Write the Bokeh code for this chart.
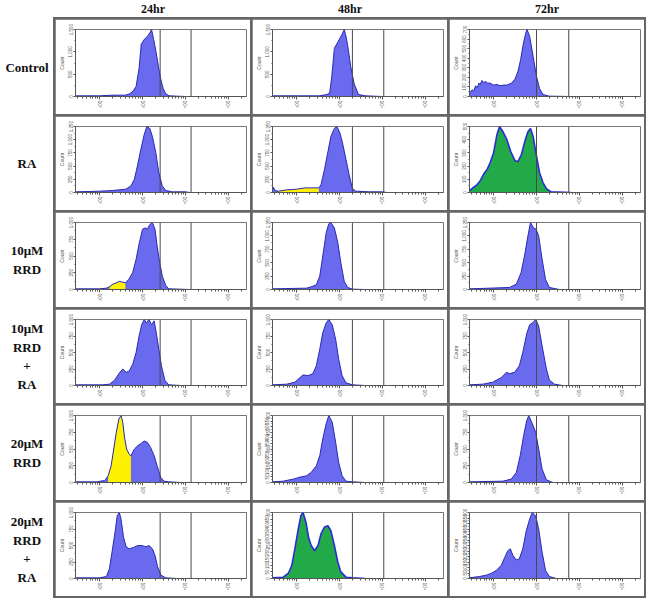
import numpy as np
from bokeh.plotting import figure
from bokeh.models import GridBox, FixedTicker, Span, Range1d, NumeralTickFormatter, ColumnDataSource
from bokeh.layouts import column, row
from bokeh.embed import file_html
from bokeh.resources import INLINE
from bokeh.core.properties import value

# ---------------- labels ----------------
col_labels = ["24hr", "48hr", "72hr"]
row_labels = [["Control"], ["RA"], ["10μM", "RRD"], ["10μM", "RRD", "+", "RA"],
              ["20μM", "RRD"], ["20μM", "RRD", "+", "RA"]]
x_tick_pos = [2, 3, 4, 5]
x_tick_labels = ["10²", "10³", "10⁴", "10⁵"]
gate_lines = [[3.41, 4.13], [3.30, 4.03], [3.00, 3.75]]   # log10 positions, per time column

# ---------------- histograms (x = log10 intensity, h = fraction of full scale) ----------------
x_ctrl_24 = [1.44, 1.6, 2.0, 2.3, 2.6, 2.7, 2.78, 2.85, 2.92, 2.97, 3.05, 3.12, 3.17, 3.21, 3.26, 3.31, 3.37, 3.42, 3.48, 3.54, 3.62, 3.8, 4.0]
h_ctrl_24 = [0.01, 0.01, 0.01, 0.02, 0.02, 0.04, 0.08, 0.15, 0.42, 0.78, 0.86, 0.9, 0.95, 1.0, 0.85, 0.68, 0.45, 0.27, 0.12, 0.04, 0.01, 0.005, 0.0]
x_ctrl_48 = [1.44, 2.0, 2.54, 2.7, 2.77, 2.82, 2.88, 2.95, 3.0, 3.06, 3.11, 3.15, 3.19, 3.26, 3.34, 3.44, 3.6, 4.0]
h_ctrl_48 = [0.01, 0.01, 0.01, 0.03, 0.05, 0.3, 0.72, 0.8, 0.86, 0.93, 1.0, 0.9, 0.76, 0.45, 0.19, 0.03, 0.01, 0.0]
x_ctrl_72 = [1.44, 1.5, 1.54, 1.58, 1.62, 1.66, 1.69, 1.73, 1.77, 1.81, 1.85, 1.92, 2.0, 2.08, 2.15, 2.23, 2.31, 2.42, 2.5, 2.57, 2.63, 2.69, 2.75, 2.78, 2.84, 2.92, 3.0, 3.07, 3.15, 3.3, 3.8]
h_ctrl_72 = [0.05, 0.1, 0.08, 0.16, 0.13, 0.2, 0.18, 0.24, 0.2, 0.23, 0.2, 0.2, 0.17, 0.18, 0.16, 0.17, 0.17, 0.2, 0.26, 0.38, 0.55, 0.78, 0.95, 1.0, 0.9, 0.6, 0.3, 0.12, 0.03, 0.005, 0.0]

x_ra_24 = [1.44, 2.0, 2.3, 2.61, 2.73, 2.81, 2.88, 2.96, 3.04, 3.1, 3.17, 3.23, 3.31, 3.38, 3.46, 3.54, 3.7, 4.0, 4.1]
h_ra_24 = [0.01, 0.02, 0.03, 0.05, 0.1, 0.2, 0.4, 0.65, 0.88, 1.0, 0.97, 0.85, 0.6, 0.3, 0.1, 0.03, 0.01, 0.01, 0.0]
x_ra_48 = [1.44, 1.46, 1.5, 1.58, 1.77, 2.0, 2.19, 2.38, 2.52, 2.57, 2.65, 2.73, 2.8, 2.88, 2.94, 3.01, 3.07, 3.15, 3.23, 3.3, 3.38, 3.7, 4.0, 4.1]
h_ra_48 = [0.03, 0.08, 0.03, 0.02, 0.04, 0.05, 0.07, 0.07, 0.07, 0.12, 0.35, 0.62, 0.85, 0.97, 1.0, 0.9, 0.75, 0.5, 0.25, 0.06, 0.02, 0.01, 0.01, 0.0]
x_ra_72 = [1.44, 1.54, 1.62, 1.69, 1.77, 1.85, 1.92, 2.0, 2.08, 2.14, 2.22, 2.31, 2.4, 2.5, 2.57, 2.65, 2.73, 2.8, 2.86, 2.92, 3.0, 3.07, 3.15, 3.23, 3.34, 3.8]
h_ra_72 = [0.03, 0.08, 0.12, 0.18, 0.28, 0.35, 0.45, 0.6, 0.88, 1.0, 0.92, 0.8, 0.62, 0.48, 0.47, 0.58, 0.78, 0.92, 0.97, 0.85, 0.55, 0.3, 0.15, 0.06, 0.01, 0.0]

x_r10_24 = [1.44, 2.0, 2.16, 2.23, 2.31, 2.39, 2.46, 2.54, 2.6, 2.68, 2.77, 2.85, 2.92, 3.0, 3.06, 3.11, 3.17, 3.23, 3.29, 3.34, 3.4, 3.46, 3.54, 3.61, 4.1]
h_r10_24 = [0.01, 0.01, 0.02, 0.04, 0.08, 0.1, 0.12, 0.11, 0.1, 0.15, 0.25, 0.45, 0.68, 0.9, 0.92, 0.9, 0.97, 1.0, 0.9, 0.65, 0.4, 0.2, 0.06, 0.01, 0.0]
x_r10_48 = [1.44, 2.23, 2.34, 2.46, 2.54, 2.61, 2.69, 2.75, 2.8, 2.88, 2.96, 3.03, 3.11, 3.19, 3.3, 3.6]
h_r10_48 = [0.01, 0.02, 0.04, 0.07, 0.2, 0.5, 0.85, 0.98, 1.0, 0.92, 0.7, 0.4, 0.12, 0.03, 0.005, 0.0]
x_r10_72 = [1.44, 2.37, 2.53, 2.64, 2.72, 2.8, 2.86, 2.93, 2.99, 3.05, 3.13, 3.21, 3.3, 3.53]
h_r10_72 = [0.01, 0.03, 0.08, 0.25, 0.5, 0.8, 1.0, 0.92, 0.9, 0.8, 0.45, 0.15, 0.03, 0.0]

x_r10ra_24 = [1.44, 2.08, 2.23, 2.35, 2.45, 2.54, 2.62, 2.69, 2.77, 2.85, 2.92, 2.98, 3.04, 3.09, 3.15, 3.21, 3.27, 3.32, 3.38, 3.44, 3.52, 3.61, 3.9]
h_r10ra_24 = [0.01, 0.01, 0.02, 0.08, 0.18, 0.25, 0.2, 0.22, 0.32, 0.5, 0.75, 0.92, 1.0, 0.95, 1.0, 0.92, 0.98, 0.8, 0.55, 0.3, 0.08, 0.01, 0.0]
x_r10ra_48 = [1.44, 1.77, 1.96, 2.08, 2.15, 2.27, 2.38, 2.46, 2.54, 2.61, 2.69, 2.75, 2.83, 2.91, 2.98, 3.06, 3.15, 3.3, 3.6]
h_r10ra_48 = [0.01, 0.02, 0.05, 0.12, 0.16, 0.15, 0.18, 0.3, 0.55, 0.8, 0.95, 1.0, 0.92, 0.7, 0.4, 0.15, 0.04, 0.01, 0.0]
x_r10ra_72 = [1.44, 1.75, 1.98, 2.18, 2.3, 2.37, 2.49, 2.6, 2.68, 2.77, 2.84, 2.91, 2.98, 3.05, 3.13, 3.23, 3.3, 3.42, 3.61]
h_r10ra_72 = [0.01, 0.02, 0.05, 0.12, 0.2, 0.18, 0.2, 0.3, 0.5, 0.78, 0.92, 0.95, 1.0, 0.9, 0.6, 0.25, 0.08, 0.02, 0.0]

x_r20_24 = [1.44, 1.93, 2.12, 2.2, 2.27, 2.33, 2.39, 2.45, 2.5, 2.54, 2.58, 2.63, 2.69, 2.73, 2.81, 2.89, 2.96, 3.04, 3.11, 3.19, 3.27, 3.34, 3.42, 3.5, 3.61, 3.9]
h_r20_24 = [0.01, 0.01, 0.03, 0.1, 0.25, 0.5, 0.75, 0.95, 1.0, 0.9, 0.68, 0.5, 0.42, 0.4, 0.5, 0.55, 0.58, 0.62, 0.6, 0.52, 0.4, 0.25, 0.08, 0.02, 0.01, 0.0]
x_r20_48 = [1.44, 1.69, 1.92, 2.08, 2.23, 2.34, 2.46, 2.54, 2.61, 2.69, 2.75, 2.83, 2.91, 2.98, 3.06, 3.15, 3.3, 3.6]
h_r20_48 = [0.01, 0.02, 0.05, 0.08, 0.1, 0.15, 0.25, 0.4, 0.65, 0.88, 1.0, 0.9, 0.6, 0.3, 0.1, 0.02, 0.01, 0.0]
x_r20_72 = [1.44, 2.22, 2.41, 2.53, 2.62, 2.7, 2.77, 2.82, 2.9, 2.98, 3.05, 3.13, 3.23, 3.38]
h_r20_72 = [0.01, 0.02, 0.05, 0.15, 0.4, 0.7, 0.92, 1.0, 0.88, 0.75, 0.5, 0.2, 0.04, 0.0]

x_r20ra_24 = [1.44, 2.0, 2.16, 2.23, 2.29, 2.36, 2.41, 2.46, 2.5, 2.56, 2.62, 2.69, 2.79, 2.89, 2.98, 3.08, 3.15, 3.23, 3.29, 3.35, 3.43, 3.54, 3.8]
h_r20ra_24 = [0.01, 0.01, 0.03, 0.15, 0.4, 0.7, 0.95, 1.0, 0.9, 0.62, 0.48, 0.45, 0.47, 0.5, 0.5, 0.48, 0.5, 0.45, 0.35, 0.18, 0.05, 0.01, 0.0]
x_r20ra_48 = [1.44, 1.69, 1.81, 1.89, 1.96, 2.04, 2.1, 2.15, 2.22, 2.28, 2.34, 2.42, 2.5, 2.57, 2.65, 2.73, 2.8, 2.88, 2.96, 3.03, 3.15, 3.3, 3.6]
h_r20ra_48 = [0.01, 0.02, 0.08, 0.2, 0.45, 0.75, 0.95, 1.0, 0.85, 0.62, 0.5, 0.42, 0.5, 0.68, 0.78, 0.8, 0.72, 0.5, 0.25, 0.1, 0.02, 0.01, 0.0]
x_r20ra_72 = [1.44, 1.67, 1.83, 1.95, 2.06, 2.18, 2.26, 2.33, 2.39, 2.45, 2.53, 2.6, 2.68, 2.76, 2.84, 2.9, 2.98, 3.05, 3.13, 3.21, 3.3, 3.46]
h_r20ra_72 = [0.01, 0.03, 0.05, 0.08, 0.12, 0.2, 0.32, 0.42, 0.45, 0.35, 0.28, 0.3, 0.45, 0.72, 0.9, 1.0, 0.95, 0.75, 0.4, 0.12, 0.03, 0.0]

# full-scale counts and y tick steps per panel (rows x time columns)
y_full = [[1500, 1500, 700], [1250, 1250, 500], [1000, 1250, 1250],
          [1000, 1000, 1000], [1000, 600, 1000], [1000, 500, 600]]
y_step = [[500, 500, 100], [250, 250, 100], [250, 250, 250],
          [250, 250, 250], [250, 50, 250], [250, 50, 50]]

panels = [
    [(x_ctrl_24, h_ctrl_24), (x_ctrl_48, h_ctrl_48), (x_ctrl_72, h_ctrl_72)],
    [(x_ra_24, h_ra_24), (x_ra_48, h_ra_48), (x_ra_72, h_ra_72)],
    [(x_r10_24, h_r10_24), (x_r10_48, h_r10_48), (x_r10_72, h_r10_72)],
    [(x_r10ra_24, h_r10ra_24), (x_r10ra_48, h_r10ra_48), (x_r10ra_72, h_r10ra_72)],
    [(x_r20_24, h_r20_24), (x_r20_48, h_r20_48), (x_r20_72, h_r20_72)],
    [(x_r20ra_24, h_r20ra_24), (x_r20ra_48, h_r20ra_48), (x_r20ra_72, h_r20ra_72)],
]
# gated (yellow) sub-populations: (row, col) -> (low, high) in log10 units
yellow_gates = {(1, 1): (1.58, 2.52), (2, 0): (2.23, 2.6), (4, 0): (2.2, 2.73)}
# panels shown fully gated (green)
green_panels = {(1, 2), (5, 1)}

BLUE_FILL = "#6a6aee"
BLUE_LINE = "#2a2ab0"
GREEN = "#22aa48"
YELLOW = "#fff200"
AXIS_C = "#555555"

CELL_W, GAP = 195, 2
ROW_H = [95, 94, 95, 94, 95, 94]
LABEL_W, HEAD_H = 53, 17

minor = [float(np.log10(k * 10.0 ** n)) for n in range(1, 6) for k in range(2, 10)]
minor = [m for m in minor if 1.44 < m < 5.42]


def make_cell(r, c):
    xs, hs = panels[r][c]
    ymax = y_full[r][c]
    step = y_step[r][c]
    p = figure(width=CELL_W, height=ROW_H[r], output_backend="svg", toolbar_location=None,
               x_range=Range1d(1.44, 5.42), y_range=Range1d(0, ymax),
               min_border_left=18, min_border_right=4, min_border_top=10, min_border_bottom=18)
    p.grid.visible = False
    p.outline_line_color = "#777777"
    p.outline_line_width = 1
    p.background_fill_color = "white"
    p.border_fill_color = "white"

    x = np.array(xs, dtype=float)
    y = np.array(hs, dtype=float) * ymax
    src = ColumnDataSource(dict(x=x, y=y))
    if (r, c) in green_panels:
        p.varea(x="x", y1=0, y2="y", source=src, fill_color=GREEN)
        p.line(x="x", y="y", source=src, line_color="#2b2bd6", line_width=1.6)
    else:
        p.varea(x="x", y1=0, y2="y", source=src, fill_color=BLUE_FILL)
        if (r, c) in yellow_gates:
            lo, hi = yellow_gates[(r, c)]
            m = (x >= lo - 1e-9) & (x <= hi + 1e-9)
            p.varea(x=x[m], y1=0, y2=y[m], fill_color=YELLOW)
        p.line(x="x", y="y", source=src, line_color=BLUE_LINE, line_width=1)

    for g in gate_lines[c]:
        p.add_layout(Span(location=g, dimension="height", line_color="#4a4a4a", line_width=1))

    # x axis
    xa = p.xaxis[0]
    xa.ticker = FixedTicker(ticks=x_tick_pos, minor_ticks=minor)
    xa.major_label_overrides = {t: l for t, l in zip(x_tick_pos, x_tick_labels)}
    xa.major_label_orientation = "vertical"
    xa.major_label_text_font_size = "5px"
    xa.major_label_text_color = AXIS_C
    xa.major_label_standoff = 1
    xa.major_tick_out = 3
    xa.major_tick_in = 0
    xa.minor_tick_out = 2
    xa.minor_tick_in = 0
    xa.axis_line_color = AXIS_C
    xa.major_tick_line_color = AXIS_C
    xa.minor_tick_line_color = AXIS_C

    # y axis
    ya = p.yaxis[0]
    yt = list(range(0, ymax + 1, step))
    ya.ticker = FixedTicker(ticks=yt, minor_ticks=[t + step / 2 for t in yt[:-1]])
    ya.formatter = NumeralTickFormatter(format="0,0")
    ya.major_label_orientation = "vertical"
    ya.major_label_text_font_size = "4.5px"
    ya.major_label_text_color = AXIS_C
    ya.major_label_standoff = 1
    ya.major_tick_out = 2
    ya.major_tick_in = 0
    ya.minor_tick_out = 1
    ya.minor_tick_in = 0
    ya.axis_line_color = AXIS_C
    ya.major_tick_line_color = AXIS_C
    ya.minor_tick_line_color = AXIS_C
    ya.axis_label = "Count"
    ya.axis_label_text_font_size = "5px"
    ya.axis_label_text_font_style = "normal"
    ya.axis_label_text_color = AXIS_C
    ya.axis_label_standoff = 1
    return p


children = []
for r in range(6):
    for c in range(3):
        children.append((make_cell(r, c), r, c))

grid = GridBox(children=children, spacing=GAP,
               styles={"background-color": "#666666", "padding": f"{GAP}px"})

GRID_H = sum(ROW_H) + 7 * GAP
GRID_W = 3 * CELL_W + 4 * GAP

# row labels
lab = figure(width=LABEL_W, height=GRID_H, output_backend="svg", toolbar_location=None,
             x_range=Range1d(0, LABEL_W), y_range=Range1d(GRID_H, 0),
             x_axis_location=None, y_axis_location=None, min_border=0)
lab.grid.visible = False
lab.outline_line_color = None
lx, ly, lt = [], [], []
for r, lines in enumerate(row_labels):
    top = GAP + sum(ROW_H[:r]) + r * GAP
    center = top + ROW_H[r] / 2
    n = len(lines)
    for i, t in enumerate(lines):
        lx.append(LABEL_W / 2)
        ly.append(center + (i - (n - 1) / 2) * 18.5)
        lt.append(t)
lab.text(x=lx, y=ly, text=lt, text_font=value("Liberation Serif"), text_font_style="bold",
         text_font_size="13px", text_align="center", text_baseline="middle", text_color="#111111")

# column headers
head = figure(width=LABEL_W + GRID_W, height=HEAD_H, output_backend="svg", toolbar_location=None,
              x_range=Range1d(0, LABEL_W + GRID_W), y_range=Range1d(0, HEAD_H),
              x_axis_location=None, y_axis_location=None, min_border=0)
head.grid.visible = False
head.outline_line_color = None
hx = [LABEL_W + GAP + c * (CELL_W + GAP) + CELL_W / 2 for c in range(3)]
head.text(x=hx, y=[HEAD_H / 2] * 3, text=col_labels, text_font=value("Liberation Serif"),
          text_font_style="bold", text_font_size="12px", text_align="center",
          text_baseline="middle", text_color="#111111")

layout = column(head, row(lab, grid, spacing=0), spacing=0)

with open("out.html", "w") as f:
    f.write(file_html(layout, INLINE))
